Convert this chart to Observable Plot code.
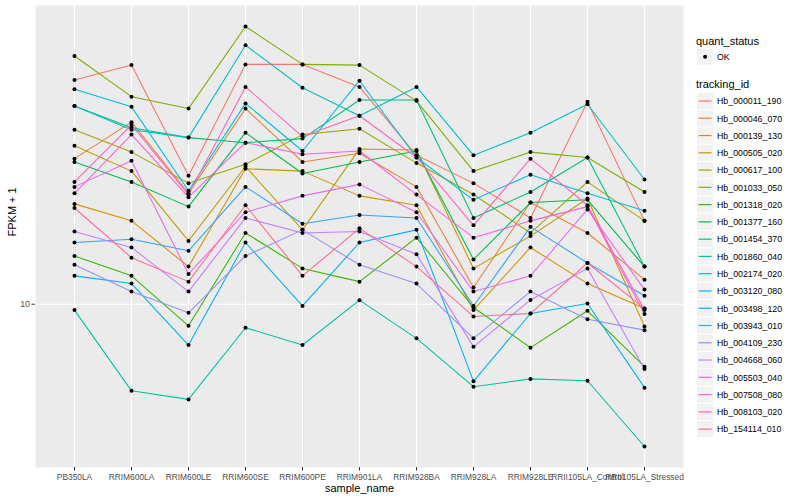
<!DOCTYPE html>
<html><head><meta charset="utf-8">
<script src="https://cdn.jsdelivr.net/npm/d3@7"></script>
<script src="https://cdn.jsdelivr.net/npm/@observablehq/plot@0.6"></script>
<style>
html,body{margin:0;padding:0;background:#fff;}
#wrap{position:relative;width:800px;height:500px;font-family:"Liberation Sans",Arial,sans-serif;}
#legend{position:absolute;left:0;top:0;}
</style></head>
<body><div id="wrap"><div id="chart"></div><svg id="legend" width="800" height="500"></svg></div>
<script>
const samples = ["PB350LA","RRIM600LA","RRIM600LE","RRIM600SE","RRIM600PE","RRIM901LA","RRIM928BA","RRIM928LA","RRIM928LE","RRII105LA_Control","RRII105LA_Stressed"];
const trackingIds = ["Hb_000011_190","Hb_000046_070","Hb_000139_130","Hb_000505_020","Hb_000617_100","Hb_001033_050","Hb_001318_020","Hb_001377_160","Hb_001454_370","Hb_001860_040","Hb_002174_020","Hb_003120_080","Hb_003498_120","Hb_003943_010","Hb_004109_230","Hb_004668_060","Hb_005503_040","Hb_007508_080","Hb_008103_020","Hb_154114_010"];
// FPKM + 1 per sample (same order as samples)
const hb_000011_190 = [28.2,30.2,18.1,30.3,30.3,27.3,19.9,17.5,14.9,25.5,14.7];
const hb_000046_070 = [19.6,23.2,16.7,24.7,19.3,20.1,17.2,10.8,16.0,13.9,11.2];
const hb_000139_130 = [15.9,14.7,11.9,18.7,18.5,16.5,15.8,9.73,13.0,11.0,9.80];
const hb_000505_020 = [20.8,18.5,13.4,18.9,14.1,20.5,20.4,11.8,13.7,16.3,9.02];
const hb_000617_100 = [22.4,20.2,17.5,19.1,21.9,22.5,19.2,16.6,13.9,17.6,14.7];
const hb_001033_050 = [31.5,26.1,24.7,36.1,30.3,30.2,25.6,18.5,20.2,19.7,16.8];
const hb_001318_020 = [12.5,11.4,9.05,13.9,11.8,11.1,13.6,9.85,8.18,9.70,7.49];
const hb_001377_160 = [19.3,17.6,15.7,22.1,18.3,19.3,20.3,12.3,16.0,16.2,11.9];
const hb_001454_370 = [25.0,22.6,21.6,21.1,21.5,25.7,25.7,14.9,16.8,19.7,11.9];
const hb_001860_040 = [9.73,6.70,6.44,8.97,8.28,10.19,8.54,6.83,7.08,7.02,5.18];
const hb_002174_020 = [25.0,22.4,21.6,33.1,27.2,23.9,27.3,19.9,22.1,25.2,17.8];
const hb_003120_080 = [27.0,24.9,16.9,25.3,20.3,28.1,19.7,16.2,18.2,16.7,15.4];
const hb_003498_120 = [11.4,11.0,8.28,13.3,9.92,13.3,14.1,7.00,9.58,10.03,6.80];
const hb_003943_010 = [13.3,13.5,12.8,17.2,14.5,15.1,14.9,9.92,14.3,12.1,10.4];
const hb_004109_230 = [12.0,10.6,9.61,12.5,14.1,12.0,11.0,8.54,10.6,9.33,8.87];
const hb_004668_060 = [14.0,13.0,10.6,14.9,13.9,14.0,12.6,8.21,10.2,11.8,7.41];
const hb_005503_040 = [17.2,19.4,11.5,15.3,16.5,17.4,15.3,10.6,11.4,15.5,10.7];
const hb_007508_080 = [16.7,21.9,16.4,21.1,20.0,20.3,16.6,13.6,14.7,15.7,9.56];
const hb_008103_020 = [17.6,22.9,16.6,27.3,21.7,23.9,19.7,14.4,19.6,15.8,9.73];
const hb_154114_010 = [15.6,12.4,11.1,15.8,11.4,14.2,11.9,9.45,9.58,12.1,9.80];
const seriesValues = [hb_000011_190,hb_000046_070,hb_000139_130,hb_000505_020,hb_000617_100,hb_001033_050,hb_001318_020,hb_001377_160,hb_001454_370,hb_001860_040,hb_002174_020,hb_003120_080,hb_003498_120,hb_003943_010,hb_004109_230,hb_004668_060,hb_005503_040,hb_007508_080,hb_008103_020,hb_154114_010];
const palette = ["#F8766D","#EA8331","#D89000","#C09B00","#A3A500","#7CAE00","#39B600","#00BB4E","#00BF7D","#00C1A3","#00BFC4","#00BAE0","#00B0F6","#35A2FF","#9590FF","#C77CFF","#E76BF3","#FA62DB","#FF62BC","#FF6C91"];

const rows = [];
trackingIds.forEach((id, i) => samples.forEach((s, j) => rows.push({id, sample: s, value: seriesValues[i][j], status: "OK"})));

// ggplot-style 5% expansion in log space
const ext = d3.extent(rows, d => Math.log10(d.value));
const pad = (ext[1] - ext[0]) * 0.05;
const yDomain = [Math.pow(10, ext[0] - pad), Math.pow(10, ext[1] + pad)];

const font = '"Liberation Sans", Arial, sans-serif';
const chart = Plot.plot({
  width: 800, height: 500,
  marginTop: 5, marginBottom: 33, marginLeft: 35, marginRight: 117,
  style: {fontFamily: font, fontSize: "8.4px", background: "transparent"},
  x: {type: "point", domain: samples, padding: 0.6, label: null},
  y: {type: "log", domain: yDomain, label: null},
  color: {domain: trackingIds, range: palette},
  marks: [
    Plot.frame({fill: "#EBEBEB", stroke: null}),
    Plot.gridX(samples, {stroke: "white", strokeOpacity: 1, strokeWidth: 1.1}),
    Plot.gridY([10], {stroke: "white", strokeOpacity: 1, strokeWidth: 1.1}),
    Plot.line(rows, {x: "sample", y: "value", z: "id", stroke: "id", strokeWidth: 1.07}),
    Plot.dot(rows, {x: "sample", y: "value", fill: "black", r: 2, stroke: null}),
    Plot.axisX({tickSize: 3.5, tickPadding: 3, stroke: "#333", fill: "#4D4D4D", fontSize: "8.4px"}),
    Plot.axisY([10], {tickSize: 3.5, tickPadding: 2, tickFormat: d => String(d), stroke: "#333", fill: "#4D4D4D", fontSize: "8.8px"}),
    Plot.text(["sample_name"], {frameAnchor: "bottom", dy: 24, fontSize: 11, fill: "black"}),
    Plot.text(["FPKM + 1"], {frameAnchor: "left", dx: -23, rotate: -90, fontSize: 11, fill: "black"})
  ]
});
document.getElementById("chart").appendChild(chart);

// legend
const lg = d3.select("#legend").style("font-family", font);
lg.append("text").attr("x", 696).attr("y", 40.7).attr("dominant-baseline", "central").attr("font-size", 11).text("quant_status");
lg.append("rect").attr("x", 697).attr("y", 48.6).attr("width", 16.2).attr("height", 16.2).attr("fill", "#F2F2F2");
lg.append("circle").attr("cx", 705.1).attr("cy", 56.7).attr("r", 2).attr("fill", "black");
lg.append("text").attr("x", 717).attr("y", 57).attr("dominant-baseline", "central").attr("font-size", 8.8).text("OK");
lg.append("text").attr("x", 696).attr("y", 84.3).attr("dominant-baseline", "central").attr("font-size", 11).text("tracking_id");
trackingIds.forEach((id, i) => {
  const cy = 101 + i * 17.27;
  lg.append("rect").attr("x", 697).attr("y", cy - 8.1).attr("width", 16.2).attr("height", 16.2).attr("fill", "#F2F2F2");
  lg.append("line").attr("x1", 698.6).attr("x2", 711.6).attr("y1", cy).attr("y2", cy).attr("stroke", palette[i]).attr("stroke-width", 1.2);
  lg.append("text").attr("x", 717).attr("y", cy + 0.3).attr("dominant-baseline", "central").attr("font-size", 8.8).text(id);
});
</script></body></html>
